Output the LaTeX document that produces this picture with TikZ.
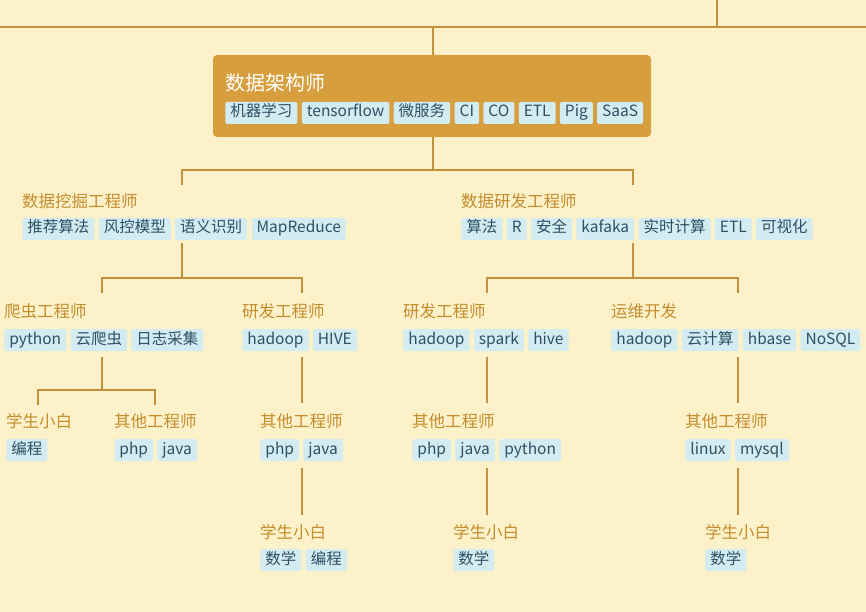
\documentclass[tikz,border=0pt]{standalone}
\usepackage{fontspec}
\setmainfont{Noto Sans CJK SC}
\definecolor{bg}{HTML}{FDF1C9}
\definecolor{ln}{HTML}{C3923A}
\definecolor{ttl}{HTML}{C48D2E}
\definecolor{rootc}{HTML}{D79E3D}
\definecolor{tagbg}{HTML}{D3ECF2}
\definecolor{tagtx}{HTML}{2E5064}
\tikzset{
 tagbox/.style={fill=tagbg,text=tagtx,rounded corners=1.5pt,inner xsep=5pt,inner ysep=0pt,text height=11pt,text depth=3pt,minimum height=22pt,font=\fontsize{15.5}{15.5}\selectfont,anchor=west},
 ttlnode/.style={text=ttl,inner sep=0pt,anchor=west,font=\fontsize{16.5}{17}\selectfont},
 conn/.style={draw=ln,line width=1.2pt}
}
\newcommand{\tagrow}[4]{%
 \node[inner sep=0pt,minimum size=0pt] (#1-0) at (#2-4,#3) {};
 \foreach \tt [count=\i] in {#4}{%
  \pgfmathtruncatemacro\j{\i-1}%
  \node[tagbox] (#1-\i) at ([xshift=4pt]#1-\j.east) {\tt};
 }}
\begin{document}
\begin{tikzpicture}[x=1pt,y=-1pt]
\fill[bg] (0,0) rectangle (866,612);
\useasboundingbox (0,0) rectangle (866,612);
% top lines
\draw[conn] (0,27) -- (866,27);
\draw[conn] (717,0) -- (717,27);
\draw[conn] (433,27) -- (433,55);
% root
\node[fill=rootc,rounded corners=4pt,minimum width=438pt,minimum height=82pt,inner sep=0pt] (root) at (432,96) {};
\node[text=white,anchor=west,inner sep=0pt,font=\fontsize{20}{20}\selectfont] (rt) at (225,83) {数据架构师};
\tagrow{rtag}{225}{113}{机器学习,tensorflow,微服务,CI,CO,ETL,Pig,SaaS}
\draw[conn] (433,137) -- (433,170);
\draw[conn] (182,185) -- (182,170) -- (633,170) -- (633,185);
% level 2
\node[ttlnode] (a) at (22,201) {数据挖掘工程师};
\tagrow{atag}{22}{229}{推荐算法,风控模型,语义识别,MapReduce}
\node[ttlnode] (b) at (461,201) {数据研发工程师};
\tagrow{btag}{461}{229}{算法,R,安全,kafaka,实时计算,ETL,可视化}
\draw[conn] (182,243) -- (182,278);
\draw[conn] (102,293) -- (102,278) -- (302,278) -- (302,293);
\draw[conn] (633,243) -- (633,278);
\draw[conn] (487,293) -- (487,278) -- (738,278) -- (738,293);
% level 3
\node[ttlnode] (c1) at (4,311) {爬虫工程师};
\tagrow{c1t}{4}{340}{python,云爬虫,日志采集}
\node[ttlnode] (c2) at (242,311) {研发工程师};
\tagrow{c2t}{242}{340}{hadoop,HIVE}
\node[ttlnode] (c3) at (403,311) {研发工程师};
\tagrow{c3t}{403}{340}{hadoop,spark,hive}
\node[ttlnode] (c4) at (611,311) {运维开发};
\tagrow{c4t}{611}{340}{hadoop,云计算,hbase,NoSQL}
\draw[conn] (102,357) -- (102,390);
\draw[conn] (38,405) -- (38,390) -- (155,390) -- (155,405);
\draw[conn] (302,357) -- (302,403);
\draw[conn] (487,357) -- (487,403);
\draw[conn] (738,357) -- (738,403);
% level 4
\node[ttlnode] (d1) at (6,421) {学生小白};
\tagrow{d1t}{6}{450}{编程}
\node[ttlnode] (d2) at (114,421) {其他工程师};
\tagrow{d2t}{114}{450}{php,java}
\node[ttlnode] (d3) at (260,421) {其他工程师};
\tagrow{d3t}{260}{450}{php,java}
\node[ttlnode] (d4) at (412,421) {其他工程师};
\tagrow{d4t}{412}{450}{php,java,python}
\node[ttlnode] (d5) at (685,421) {其他工程师};
\tagrow{d5t}{685}{450}{linux,mysql}
\draw[conn] (302,468) -- (302,515);
\draw[conn] (487,468) -- (487,515);
\draw[conn] (738,468) -- (738,515);
% level 5
\node[ttlnode] (e1) at (260,532) {学生小白};
\tagrow{e1t}{260}{560}{数学,编程}
\node[ttlnode] (e2) at (453,532) {学生小白};
\tagrow{e2t}{453}{560}{数学}
\node[ttlnode] (e3) at (705,532) {学生小白};
\tagrow{e3t}{705}{560}{数学}
\end{tikzpicture}
\end{document}
